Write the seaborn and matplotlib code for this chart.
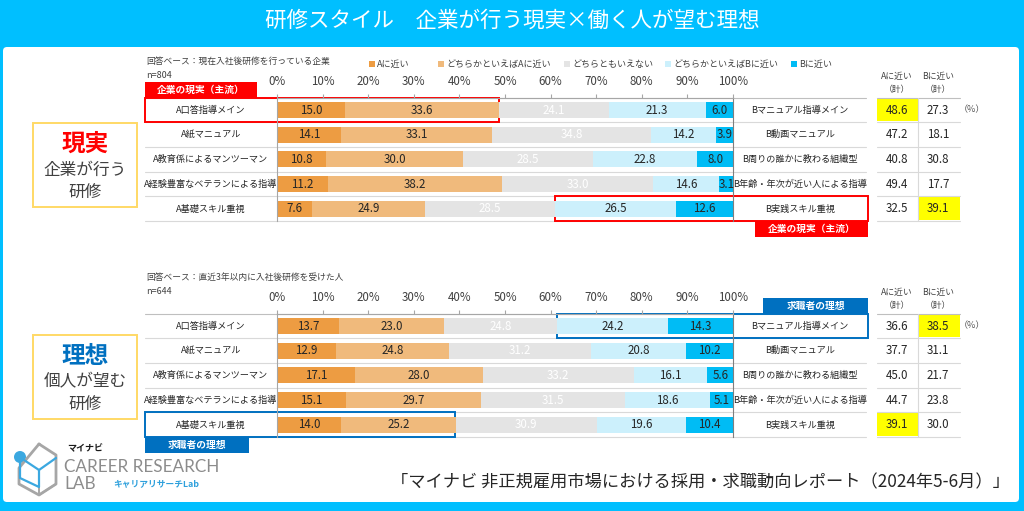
import numpy as np
import pandas as pd
import matplotlib.pyplot as plt
import matplotlib.patches as mpatches
import seaborn as sb

sb.set_theme(style="white")
plt.rcParams['font.family'] = ['Noto Sans CJK JP', 'DejaVu Sans']

W, H = 1024, 511

# ---- data ----
segments   = ["Aに近い", "どちらかといえばAに近い", "どちらともいえない", "どちらかといえばBに近い", "Bに近い"]
seg_colors = ["#ED9C42", "#F0BA7C", "#E4E4E4", "#CCF0FC", "#00BCF5"]
seg_text   = ["#262626", "#262626", "#FFFFFF", "#262626", "#262626"]

a_labels = ["A口答指導メイン", "A紙マニュアル", "A教育係によるマンツーマン",
            "A経験豊富なベテランによる指導", "A基礎スキル重視"]
b_labels = ["Bマニュアル指導メイン", "B動画マニュアル", "B周りの誰かに教わる組織型",
            "B年齢・年次が近い人による指導", "B実践スキル重視"]

real_a     = [15.0, 14.1, 10.8, 11.2, 7.6]
real_soa   = [33.6, 33.1, 30.0, 38.2, 24.9]
real_neu   = [24.1, 34.8, 28.5, 33.0, 28.5]
real_sob   = [21.3, 14.2, 22.8, 14.6, 26.5]
real_b     = [6.0, 3.9, 8.0, 3.1, 12.6]
real_a_tot = [48.6, 47.2, 40.8, 49.4, 32.5]
real_b_tot = [27.3, 18.1, 30.8, 17.7, 39.1]

ideal_a     = [13.7, 12.9, 17.1, 15.1, 14.0]
ideal_soa   = [23.0, 24.8, 28.0, 29.7, 25.2]
ideal_neu   = [24.8, 31.2, 33.2, 31.5, 30.9]
ideal_sob   = [24.2, 20.8, 16.1, 18.6, 19.6]
ideal_b     = [14.3, 10.2, 5.6, 5.1, 10.4]
ideal_a_tot = [36.6, 37.7, 45.0, 44.7, 39.1]
ideal_b_tot = [38.5, 31.1, 21.7, 23.8, 30.0]

tick_vals = list(range(0, 101, 10))

# ---- layout (pixels) ----
X0, X1 = 277, 733          # 0% .. 100%
ROW = 24.7
LCOL, RCOL = 145, 866
SUM_A, SUM_B, SUM_R = 877, 918, 960
GRID = "#D9D9D9"
RED = "#FF0000"
BLUE = "#0070C0"

fig = plt.figure(figsize=(W / 100, H / 100), dpi=100)
fig.patch.set_facecolor("#00BFFF")
bg = fig.add_axes([0, 0, 1, 1])
bg.set_xlim(0, W)
bg.set_ylim(H, 0)
bg.axis("off")
bg.add_patch(mpatches.FancyBboxPatch((3, 47), 1016, 455, boxstyle="round,pad=0,rounding_size=4",
                                     facecolor="white", edgecolor="none"))
bg.text(W / 2, 21, "研修スタイル　企業が行う現実×働く人が望む理想", color="white",
        fontsize=15.5, ha="center", va="center")


def xpx(v):
    return X0 + (X1 - X0) * v / 100.0


def panel(y_axis, vals, a_tot, b_tot, base, n, hl_a, hl_b, side_a_row, side_b_row,
          tag, tag_color, tag_pos, box_top, big, big_color, line2):
    rows = [y_axis + ROW / 2 + i * ROW for i in range(5)]
    bottom = y_axis + 5 * ROW

    bg.text(146, y_axis - 36, base, fontsize=6.3, color="#404040", va="center")
    bg.text(146, y_axis - 22, n, fontsize=6.5, color="#404040", va="center")
    bg.text(897, y_axis - 21, "Aに近い", fontsize=6.3, color="#404040", ha="center", va="center")
    bg.text(897, y_axis - 8, "（計）", fontsize=6.3, color="#404040", ha="center", va="center")
    bg.text(938, y_axis - 21, "Bに近い", fontsize=6.3, color="#404040", ha="center", va="center")
    bg.text(938, y_axis - 8, "（計）", fontsize=6.3, color="#404040", ha="center", va="center")

    # yellow highlight cells
    r = hl_a
    bg.add_patch(mpatches.Rectangle((SUM_A, rows[r] - ROW / 2 + 1), SUM_B - SUM_A, ROW - 2,
                                    facecolor="#FFFF00", edgecolor="none"))
    r = hl_b
    bg.add_patch(mpatches.Rectangle((SUM_B, rows[r] - ROW / 2 + 1), SUM_R - SUM_B, ROW - 2,
                                    facecolor="#FFFF00", edgecolor="none"))

    # table lines
    for k in range(6):
        yy = y_axis + k * ROW
        c = "#BFBFBF" if k == 0 else GRID
        bg.plot([LCOL, RCOL], [yy, yy], color=c, lw=0.8)
        bg.plot([SUM_A, SUM_R], [yy, yy], color=c, lw=0.8)
    bg.plot([SUM_B, SUM_B], [y_axis, bottom], color=GRID, lw=0.8)

    for i in range(5):
        bg.text(211, rows[i], a_labels[i], fontsize=6.6, color="#262626", ha="center", va="center")
        bg.text(800, rows[i], b_labels[i], fontsize=6.6, color="#262626", ha="center", va="center")
        bg.text(897, rows[i], f"{a_tot[i]:.1f}", fontsize=8.3, color="#262626", ha="center", va="center")
        bg.text(938, rows[i], f"{b_tot[i]:.1f}", fontsize=8.3, color="#262626", ha="center", va="center")
    bg.text(972, rows[0], "（%）", fontsize=6.5, color="#595959", ha="center", va="center")

    # stacked bars
    ax = fig.add_axes([X0 / W, 1 - bottom / H, (X1 - X0) / W, 5 * ROW / H])
    ax.set_facecolor("none")
    arr = np.array(vals)
    cum = np.cumsum(arr, axis=0)
    for k in range(4, -1, -1):
        df = pd.DataFrame({"label": a_labels, "value": cum[k]})
        sb.barplot(data=df, x="value", y="label", orient="h", color=seg_colors[k], saturation=1,
                   width=0.65, linewidth=0, ax=ax)
    for k in range(5):
        for i in range(5):
            v = arr[k][i]
            ax.text(cum[k][i] - v / 2, i, f"{v:.1f}", fontsize=8.3, color=seg_text[k],
                    ha="center", va="center")
    ax.set_xlim(0, 100)
    ax.set_ylim(4.5, -0.5)
    ax.set_yticks([])
    ax.set_xlabel("")
    ax.set_ylabel("")
    ax.xaxis.tick_top()
    ax.set_xticks(tick_vals)
    ax.set_xticklabels([f"{t}%" for t in tick_vals])
    ax.tick_params(axis="x", top=True, bottom=False, length=3, width=0.8, color="#A6A6A6",
                   labelsize=8.3, labelcolor="#404040", pad=4, direction="out")
    for s in ["top", "left"]:
        ax.spines[s].set_color("#A6A6A6")
        ax.spines[s].set_linewidth(0.8)
    ax.spines["right"].set_color("#7F7F7F")
    ax.spines["right"].set_linewidth(0.8)
    ax.spines["bottom"].set_visible(False)

    # outline boxes
    ra = rows[side_a_row]
    bg.add_patch(mpatches.Rectangle((LCOL, ra - ROW / 2), xpx(a_tot[side_a_row]) - LCOL, ROW,
                                    facecolor="none", edgecolor=tag_color, lw=1.4, zorder=5))
    rb = rows[side_b_row]
    xb = xpx(100 - b_tot[side_b_row])
    bg.add_patch(mpatches.Rectangle((xb, rb - ROW / 2), RCOL + 2 - xb, ROW,
                                    facecolor="none", edgecolor=tag_color, lw=1.4, zorder=5))
    for (tx, ty, tw) in tag_pos:
        bg.add_patch(mpatches.Rectangle((tx, ty), tw, 16, facecolor=tag_color, edgecolor="none", zorder=6))
        bg.text(tx + tw / 2, ty + 8, tag, fontsize=7, color="white", fontweight="bold",
                ha="center", va="center", zorder=7)

    # left summary box
    bg.add_patch(mpatches.Rectangle((33, box_top), 104, 84, facecolor="white",
                                    edgecolor="#FFD966", lw=1.4))
    bg.text(85, box_top + 21, big, fontsize=17, color=big_color, fontweight="bold",
            ha="center", va="center")
    bg.text(85, box_top + 47, line2, fontsize=12, color="#404040", ha="center", va="center")
    bg.text(85, box_top + 69, "研修", fontsize=12, color="#404040", ha="center", va="center")


# legend (top only)
leg_x = [372, 441, 567, 668, 794]
for lx, lab, col in zip(leg_x, segments, seg_colors):
    bg.add_patch(mpatches.Rectangle((lx - 3, 61), 6, 6, facecolor=col, edgecolor="none"))
    bg.text(lx + 5, 64, lab, fontsize=6.5, color="#404040", va="center")

top_y = 97.65
panel(top_y, [real_a, real_soa, real_neu, real_sob, real_b], real_a_tot, real_b_tot,
      "回答ベース：現在入社後研修を行っている企業", "n=804", 0, 4, 0, 4,
      "企業の現実（主流）", RED,
      [(145, top_y - 16, 112), (755, top_y + 5 * ROW - 0.5, 113)],
      123, "現実", RED, "企業が行う")

bot_y = 313.65
panel(bot_y, [ideal_a, ideal_soa, ideal_neu, ideal_sob, ideal_b], ideal_a_tot, ideal_b_tot,
      "回答ベース：直近3年以内に入社後研修を受けた人", "n=644", 4, 0, 4, 0,
      "求職者の理想", BLUE,
      [(763, bot_y - 16, 105), (145, bot_y + 5 * ROW - 0.5, 104)],
      335, "理想", BLUE, "個人が望む")

# logo
hexx = [39, 56, 56, 39, 19, 19, 39]
hexy = [444, 455, 484, 495, 484, 468, 444]
bg.plot(hexx, hexy, color="#A6A6A6", lw=2)
bg.plot([39, 39, 56], [470, 495, 484], color="#A6A6A6", lw=1.4)
bg.plot([20, 20, 39, 39], [462, 478, 487, 470], color="#3BA8E0", lw=1.6)
bg.plot([24, 39, 56], [460, 470, 458], color="#3BA8E0", lw=1.6)
bg.add_patch(mpatches.Circle((20, 457), 6, facecolor="#3BA8E0", edgecolor="none"))
bg.text(67, 449, "マイナビ", fontsize=6.5, fontweight="bold", color="#1A1A1A", va="center")
bg.text(64, 467, "CAREER RESEARCH", fontsize=12.3, color="#8C8C8C", va="center",
        family=["Lato", "DejaVu Sans"])
bg.text(64, 484, "LAB", fontsize=12.3, color="#8C8C8C", va="center",
        family=["Lato", "DejaVu Sans"])
bg.text(113, 485, "キャリアリサーチLab", fontsize=6.3, fontweight="bold", color="#2EA0DC", va="center")

# source
bg.text(700, 482, "「マイナビ 非正規雇用市場における採用・求職動向レポート（2024年5-6月）」",
        fontsize=12.4, color="#262626", ha="center", va="center")

fig.savefig("out.png", dpi=100, facecolor=fig.get_facecolor())
